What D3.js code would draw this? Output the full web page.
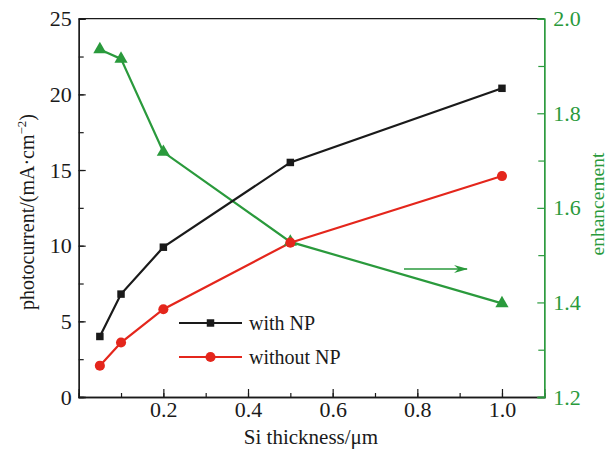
<!DOCTYPE html>
<html>
<head>
<meta charset="utf-8">
<script src="https://cdn.jsdelivr.net/npm/d3@7"></script>
<style>
  body { margin: 0; background: #fff; }
  svg text { font-family: "Liberation Serif", "Times New Roman", serif; }
</style>
</head>
<body>
<svg id="chart" width="614" height="451"></svg>
<script>
// data
const thickness = [0.05, 0.1, 0.2, 0.5, 1.0];
const withNP = [4.0, 6.8, 9.9, 15.5, 20.4];
const withoutNP = [2.07, 3.6, 5.8, 10.2, 14.6];
const enhancement = [1.935, 1.915, 1.718, 1.528, 1.398];

const xTicks = [0.2, 0.4, 0.6, 0.8, 1.0];
const yTicks = [0, 5, 10, 15, 20, 25];
const y2Ticks = [1.2, 1.4, 1.6, 1.8, 2.0];

const black = '#1a1a1a', red = '#e4261c', green = '#2a9a3c';

const pLeft = 78.7, pRight = 544.3, pTop = 18.7, pBottom = 397;
const svg = d3.select('#chart');

const x = d3.scaleLinear().domain([0, 1.1]).range([pLeft, pRight]);
const y = d3.scaleLinear().domain([0, 25]).range([pBottom, pTop]);
const y2 = d3.scaleLinear().domain([1.2, 2.0]).range([pBottom, pTop]);

// frame
svg.append('line').attr('x1', pLeft).attr('x2', pRight).attr('y1', pTop).attr('y2', pTop)
  .attr('stroke', black).attr('stroke-width', 1.3);

// axes, ticks pointing inward
const xMinor = d3.range(0.1, 1.05, 0.1);
svg.append('g').attr('transform', `translate(0,${pBottom})`)
  .call(d3.axisBottom(x).tickValues(xMinor).tickSize(-4).tickFormat(''));
svg.append('g').attr('transform', `translate(0,${pBottom})`)
  .call(d3.axisBottom(x).tickValues(xTicks).tickSize(-8).tickPadding(4.5).tickFormat(d3.format('.1f')));

const yMinor = d3.range(2.5, 25, 2.5);
svg.append('g').attr('transform', `translate(${pLeft},0)`)
  .call(d3.axisLeft(y).tickValues(yMinor).tickSize(-5).tickFormat(''));
svg.append('g').attr('transform', `translate(${pLeft},0)`)
  .call(d3.axisLeft(y).tickValues(yTicks).tickSize(-7).tickPadding(7));

const y2Minor = d3.range(1.3, 2.0, 0.2);
svg.append('g').attr('class', 'g2').attr('transform', `translate(${pRight},0)`)
  .call(d3.axisRight(y2).tickValues(y2Minor).tickSize(-6).tickFormat(''));
svg.append('g').attr('class', 'g2').attr('transform', `translate(${pRight},0)`)
  .call(d3.axisRight(y2).tickValues(y2Ticks).tickSize(-7).tickPadding(9).tickFormat(d3.format('.1f')));

svg.selectAll('.domain').attr('stroke-width', 1.3);
svg.selectAll('.tick line').attr('stroke-width', 1.2);
svg.selectAll('g').filter(function() { return !this.classList.contains('g2'); })
  .selectAll('path, line').attr('stroke', black);
svg.selectAll('.g2 path, .g2 line').attr('stroke', green);
svg.selectAll('.tick text').attr('font-size', 22).attr('font-family', '"Liberation Serif", serif').attr('fill', black);
svg.selectAll('.g2 .tick text').attr('fill', green);

// axis titles
svg.append('text').attr('x', 311).attr('y', 444).attr('text-anchor', 'middle')
  .attr('font-size', 21).attr('fill', black).text('Si thickness/μm');
const ytitle = svg.append('text').attr('transform', `translate(34,212) rotate(-90)`)
  .attr('text-anchor', 'middle').attr('font-size', 20).attr('fill', black);
ytitle.append('tspan').text('photocurrent/(mA·cm');
ytitle.append('tspan').attr('dy', -8).attr('font-size', 13).text('−2');
ytitle.append('tspan').attr('dy', 8).text(')');
svg.append('text').attr('transform', `translate(604,204) rotate(-90)`)
  .attr('text-anchor', 'middle').attr('font-size', 19.5).attr('fill', green).text('enhancement');

// series
const pts = vals => thickness.map((t, i) => [t, vals[i]]);
const line1 = d3.line().x(d => x(d[0])).y(d => y(d[1]));
const line2 = d3.line().x(d => x(d[0])).y(d => y2(d[1]));

svg.append('path').attr('d', line2(pts(enhancement))).attr('fill', 'none').attr('stroke', green).attr('stroke-width', 2.2);
svg.append('path').attr('d', line1(pts(withoutNP))).attr('fill', 'none').attr('stroke', red).attr('stroke-width', 2.2);
svg.append('path').attr('d', line1(pts(withNP))).attr('fill', 'none').attr('stroke', black).attr('stroke-width', 2.2);

const sq = d3.symbol().type(d3.symbolSquare).size(56);
const ci = d3.symbol().type(d3.symbolCircle).size(80);
const tri = d3.symbol().type(d3.symbolTriangle).size(75);

svg.selectAll('.m2').data(pts(enhancement)).enter().append('path')
  .attr('d', tri).attr('fill', green).attr('transform', d => `translate(${x(d[0])},${y2(d[1])})`);
svg.selectAll('.m1').data(pts(withoutNP)).enter().append('path')
  .attr('d', ci).attr('fill', red).attr('transform', d => `translate(${x(d[0])},${y(d[1])})`);
svg.selectAll('.m0').data(pts(withNP)).enter().append('path')
  .attr('d', sq).attr('fill', black).attr('transform', d => `translate(${x(d[0])},${y(d[1])})`);

// legend
const legend = [
  { name: 'with NP', color: black, sym: sq, yy: 323 },
  { name: 'without NP', color: red, sym: ci, yy: 357 }
];
legend.forEach(l => {
  svg.append('line').attr('x1', 179).attr('x2', 242).attr('y1', l.yy).attr('y2', l.yy)
    .attr('stroke', l.color).attr('stroke-width', 2.2);
  svg.append('path').attr('d', l.sym).attr('fill', l.color).attr('transform', `translate(210.5,${l.yy})`);
  svg.append('text').attr('x', 249).attr('y', l.yy + 6.5).attr('font-size', 20).attr('fill', black).text(l.name);
});

// arrow pointing to right axis
svg.append('defs').append('marker').attr('id', 'ah').attr('viewBox', '0 0 10 10')
  .attr('refX', 9).attr('refY', 5).attr('markerWidth', 9).attr('markerHeight', 5)
  .attr('markerUnits', 'strokeWidth').attr('orient', 'auto').attr('preserveAspectRatio', 'none')
  .append('path').attr('d', 'M0,0 L10,5 L0,10 L3,5 Z').attr('fill', green);
svg.append('line').attr('x1', 404).attr('x2', 467).attr('y1', 269).attr('y2', 269)
  .attr('stroke', green).attr('stroke-width', 1.6).attr('marker-end', 'url(#ah)');
</script>
</body>
</html>
